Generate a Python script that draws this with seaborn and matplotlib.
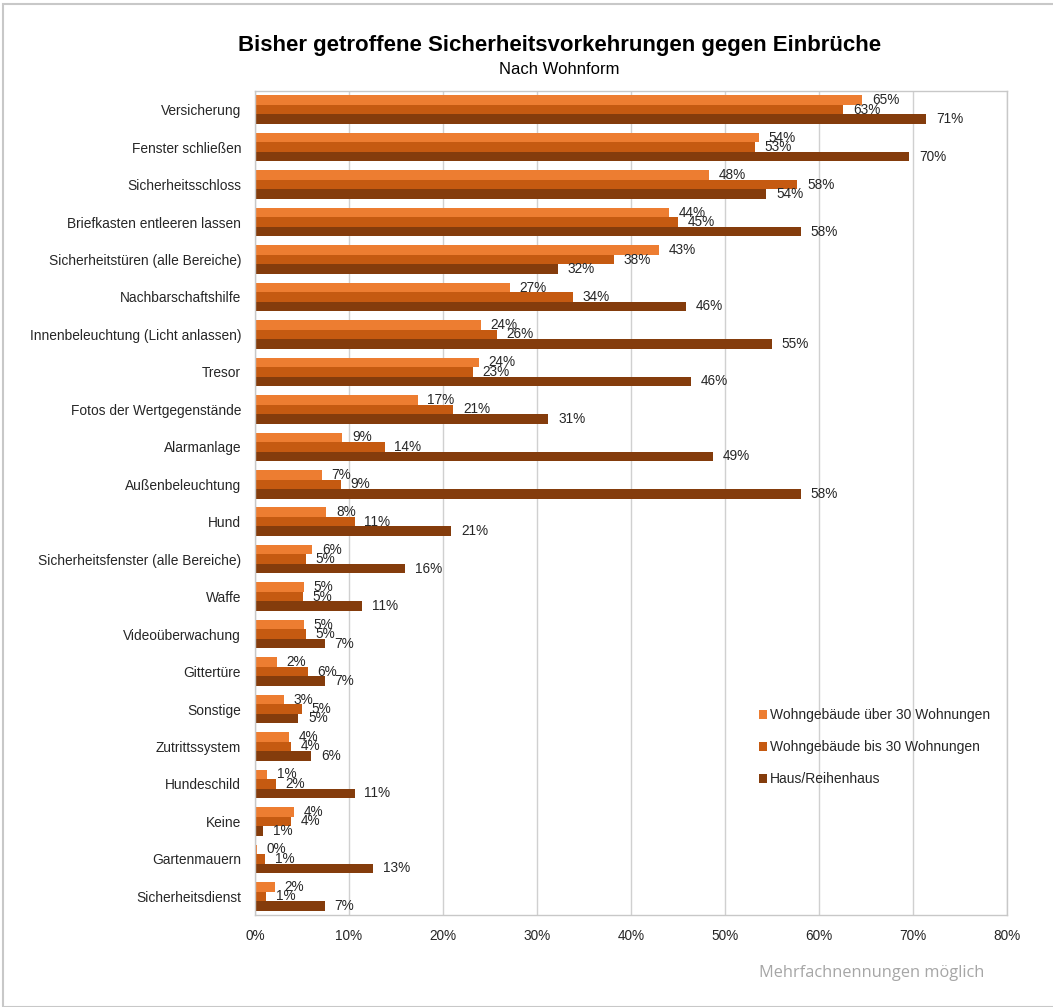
import matplotlib
matplotlib.use("Agg")
import matplotlib.pyplot as plt
import seaborn as sns
import pandas as pd
import numpy as np
from matplotlib.patches import Rectangle

categories = ["Versicherung", "Fenster schließen", "Sicherheitsschloss", "Briefkasten entleeren lassen",
              "Sicherheitstüren (alle Bereiche)", "Nachbarschaftshilfe", "Innenbeleuchtung (Licht anlassen)",
              "Tresor", "Fotos der Wertgegenstände", "Alarmanlage", "Außenbeleuchtung", "Hund",
              "Sicherheitsfenster (alle Bereiche)", "Waffe", "Videoüberwachung", "Gittertüre", "Sonstige",
              "Zutrittssystem", "Hundeschild", "Keine", "Gartenmauern", "Sicherheitsdienst"]
series = ["Wohngebäude über 30 Wohnungen", "Wohngebäude bis 30 Wohnungen", "Haus/Reihenhaus"]
ueber30 = [64.6, 53.6, 48.3, 44.0, 43.0, 27.1, 24.0, 23.8, 17.3, 9.3, 7.1, 7.6, 6.1, 5.2, 5.2, 2.3, 3.1, 3.6, 1.3, 4.1, 0.2, 2.1]
bis30 = [62.6, 53.2, 57.7, 45.0, 38.2, 33.8, 25.7, 23.2, 21.1, 13.8, 9.1, 10.6, 5.4, 5.1, 5.4, 5.6, 5.0, 3.8, 2.2, 3.8, 1.1, 1.2]
haus = [71.4, 69.6, 54.4, 58.1, 32.2, 45.9, 55.0, 46.4, 31.2, 48.7, 58.1, 20.9, 16.0, 11.4, 7.4, 7.4, 4.6, 6.0, 10.6, 0.9, 12.6, 7.4]
colors = ["#ED7D31", "#C55A11", "#843C0C"]
xticks = [0, 10, 20, 30, 40, 50, 60, 70, 80]

rows = []
for s, vals in zip(series, [ueber30, bis30, haus]):
    for c, v in zip(categories, vals):
        rows.append({"cat": c, "val": v, "series": s})
df = pd.DataFrame(rows)

sns.set_style("white")
plt.rcParams["font.family"] = ["Liberation Sans", "DejaVu Sans"]

fig = plt.figure(figsize=(10.53, 10.07), dpi=100)
ax = fig.add_axes([255/1053, 1-915/1007, 752/1053, 824/1007])

sns.barplot(data=df, y="cat", x="val", hue="series", hue_order=series, order=categories,
            palette=colors, orient="h", width=0.76, saturation=1, ax=ax, errorbar=None,
            edgecolor="none", linewidth=0)

for cont in ax.containers:
    vals = [b.get_width() for b in cont]
    ax.bar_label(cont, labels=[f"{round(v)}%" for v in vals], padding=7, fontsize=9.8, color="#262626")

ax.set_xlim(0, 80)
ax.set_ylim(len(categories) - 0.5, -0.5)
ax.set_xticks(xticks)
ax.set_xticklabels([f"{t}%" for t in xticks], fontsize=9.8, color="#262626")
ax.tick_params(axis="y", labelsize=9.9, colors="#262626", length=0, pad=10)
ax.tick_params(axis="x", length=4, color="#bfbfbf", direction="out", pad=6)
ax.set_yticks(np.arange(len(categories)))
ax.set_yticks(np.arange(len(categories) + 1) - 0.5, minor=True)
ax.tick_params(axis="y", which="minor", length=4, color="#bfbfbf", direction="out")
ax.set_xlabel("")
ax.set_ylabel("")
ax.grid(axis="x", color="#d0d0d0", linewidth=1)
ax.set_axisbelow(True)
for sp in ax.spines.values():
    sp.set_visible(True)
    sp.set_color("#c8c8c8")
    sp.set_linewidth(1)

leg = ax.legend(loc="upper left", bbox_to_anchor=(0.653, 0.266), frameon=False, fontsize=10,
                handlelength=0.6, handleheight=0.6, handletextpad=0.2, labelspacing=1.3)
for t in leg.get_texts():
    t.set_color("#262626")

fig.text(0.531, 0.955, "Bisher getroffene Sicherheitsvorkehrungen gegen Einbrüche", ha="center", va="center",
         fontsize=16, fontweight="bold", color="#000000")
fig.text(0.531, 0.931, "Nach Wohnform", ha="center", va="center", fontsize=12, color="#000000")
fig.text(0.935, 0.034, "Mehrfachnennungen möglich", ha="right", va="center", fontsize=11.8,
         color="#a6a6a6", family=["Open Sans", "DejaVu Sans"])

fig.patches.append(Rectangle((3/1053, 0), 1.1, 1-4/1007, transform=fig.transFigure, fill=False,
                             edgecolor="#c8c8c8", linewidth=1.5))

fig.savefig("out.png", dpi=100)
